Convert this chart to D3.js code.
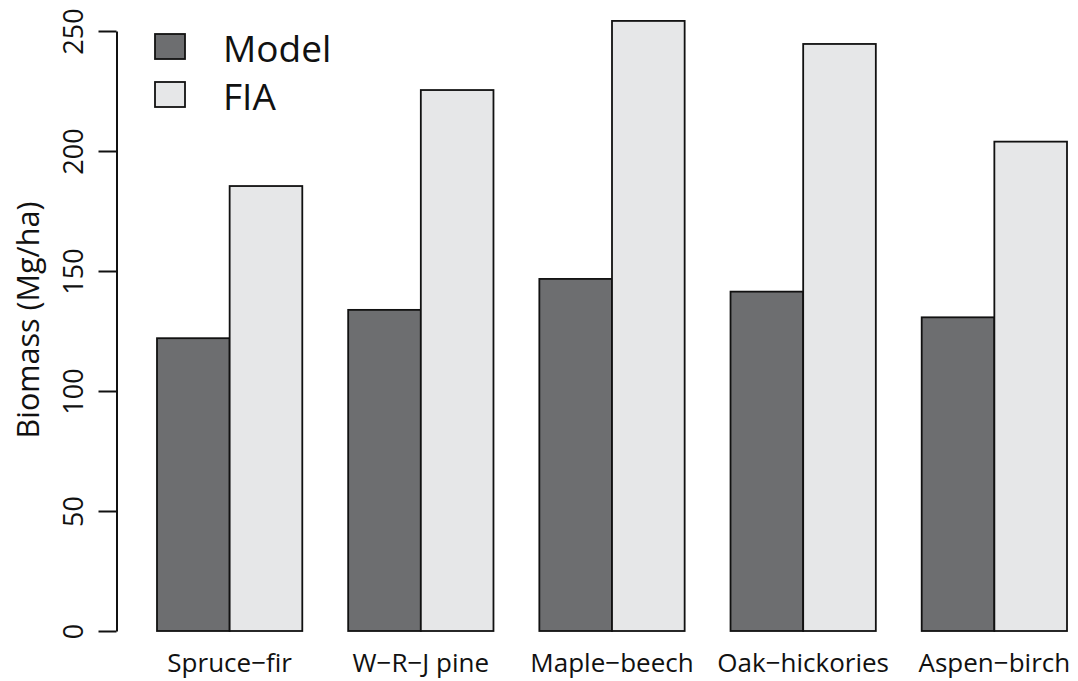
<!DOCTYPE html>
<html>
<head>
<meta charset="utf-8">
<script src="https://cdn.jsdelivr.net/npm/d3@7"></script>
<style>
  html, body { margin: 0; padding: 0; background: #fff; }
  svg { display: block; font-family: "Open Sans", "Noto Sans", sans-serif; }
</style>
</head>
<body>
<svg id="chart" width="1078" height="681"></svg>
<script>
// Forest type groups and mean biomass (Mg/ha)
const categories = ["Spruce\u2212fir", "W\u2212R\u2212J pine", "Maple\u2212beech", "Oak\u2212hickories", "Aspen\u2212birch"];
const seriesNames = ["Model", "FIA"];
const modelValues = [122, 133.8, 146.7, 141.4, 130.7];
const fiaValues = [185.4, 225.4, 254.2, 244.6, 203.9];
const yTicks = [0, 50, 100, 150, 200, 250];
const seriesColors = ["#6d6e70", "#e6e7e8"];

const svg = d3.select("#chart");

const y = d3.scaleLinear().domain([0, 250]).range([631, 31]);
const x0 = d3.scaleBand().domain(categories).range([157, 1067]).paddingInner(0.24).paddingOuter(0);
const x1 = d3.scaleBand().domain(seriesNames).range([0, x0.bandwidth()]).padding(0);
const color = d3.scaleOrdinal().domain(seriesNames).range(seriesColors);

const rows = categories.map((c, i) => ({ category: c, values: [
  { key: "Model", value: modelValues[i] },
  { key: "FIA", value: fiaValues[i] }
]}));

// Bars
const groups = svg.append("g").selectAll("g")
  .data(rows)
  .join("g")
  .attr("transform", d => `translate(${x0(d.category)},0)`);

groups.selectAll("rect")
  .data(d => d.values)
  .join("rect")
  .attr("x", d => x1(d.key))
  .attr("y", d => y(d.value))
  .attr("width", x1.bandwidth())
  .attr("height", d => y(0) - y(d.value))
  .attr("fill", d => color(d.key))
  .attr("stroke", "#111")
  .attr("stroke-width", 1.8);

// Category labels
svg.append("g").selectAll("text")
  .data(categories)
  .join("text")
  .attr("x", d => x0(d) + x0.bandwidth() / 2)
  .attr("y", 672)
  .attr("text-anchor", "middle")
  .attr("font-size", 26)
  .attr("fill", "#111")
  .text(d => d);

// Y axis
const yAxis = svg.append("g")
  .attr("transform", "translate(116.5,0)")
  .call(d3.axisLeft(y).tickValues(yTicks).tickSize(18).tickSizeOuter(0));
yAxis.select(".domain").attr("stroke", "#111").attr("stroke-width", 2);
yAxis.selectAll(".tick line").attr("stroke", "#111").attr("stroke-width", 2);
yAxis.selectAll(".tick text")
  .attr("transform", "rotate(-90)")
  .attr("x", 0)
  .attr("y", -34)
  .attr("dy", 0)
  .attr("text-anchor", "middle")
  .attr("font-size", 27)
  .attr("font-family", "\"Open Sans\", sans-serif")
  .attr("fill", "#111");

// Y axis title
svg.append("text")
  .attr("transform", "translate(39,320) rotate(-90)")
  .attr("text-anchor", "middle")
  .attr("font-size", 30.5)
  .attr("fill", "#111")
  .text("Biomass (Mg/ha)");

// Legend
const legend = svg.append("g").selectAll("g")
  .data(seriesNames)
  .join("g")
  .attr("transform", (d, i) => `translate(155,${34 + i * 48})`);
legend.append("rect")
  .attr("width", 30)
  .attr("height", 25)
  .attr("fill", d => color(d))
  .attr("stroke", "#111")
  .attr("stroke-width", 1.8);
legend.append("text")
  .attr("x", 68)
  .attr("y", 28)
  .attr("font-size", 37)
  .attr("fill", "#111")
  .text(d => d);
</script>
</body>
</html>
